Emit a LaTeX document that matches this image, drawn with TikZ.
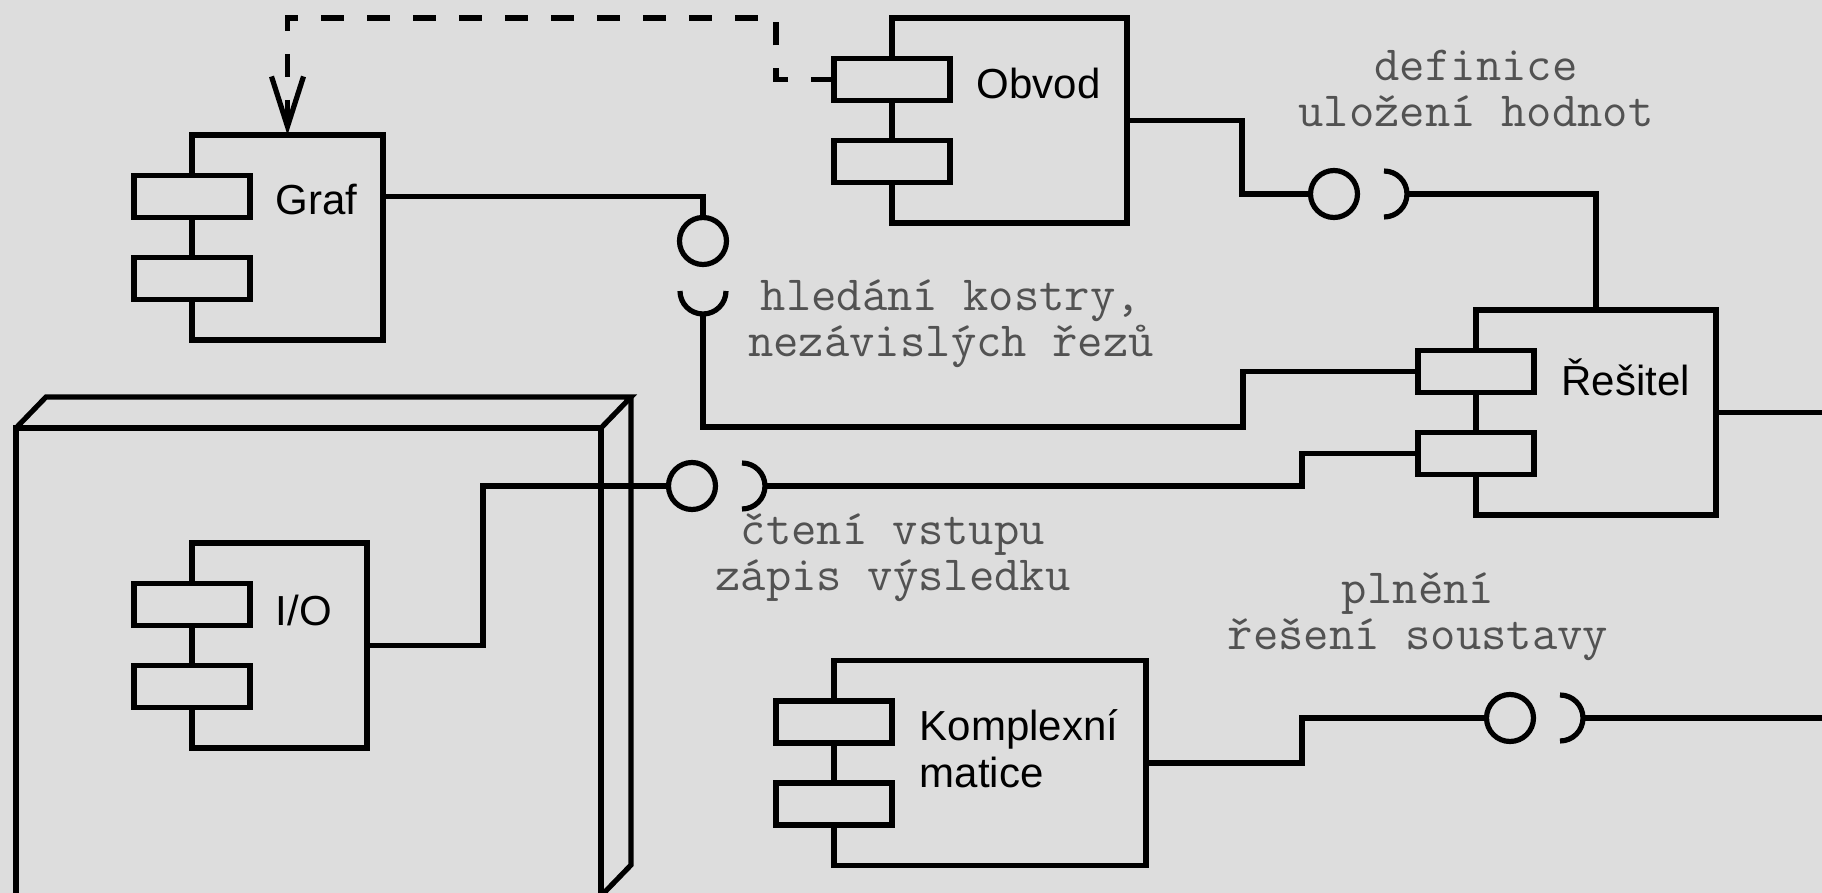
\documentclass[tikz,border=0pt]{standalone}
\usepackage{fontspec}
\setsansfont{Liberation Sans}
\usepackage{xcolor}
\usetikzlibrary{arrows.meta, positioning, calc}
\definecolor{bgc}{HTML}{DDDDDD}

\begin{document}
\begin{tikzpicture}[
  x=0.5pt, y=-0.5pt,
  every node/.style={inner sep=0pt, outer sep=0pt},
  comp/.style={draw, line width=2.6pt, minimum height=102.5pt},
  port/.style={draw, line width=2.6pt, fill=bgc, minimum width=58pt, minimum height=21pt},
  ball/.style={circle, draw, line width=2.6pt, minimum size=23.5pt},
  wire/.style={line width=2.6pt},
  dep/.style={line width=2.6pt, dash pattern=on 11.5pt off 11.5pt,
    -{Straight Barb[length=25pt, width=16pt]}},
  title/.style={font=\sffamily\fontsize{21pt}{23.5pt}\selectfont},
  iface/.style={font=\ttfamily\fontsize{24.6pt}{23pt}\selectfont,
    text=black!68, align=center}
]

\path[use as bounding box, fill=bgc] (0,0) rectangle (1822,893);

% uzel
\node[draw, line width=2.6pt, minimum width=292.5pt, minimum height=234pt] (dev) at (308.5,662) {};
\draw[line width=2.6pt] (dev.north west) -- ([shift={(30,-31)}]dev.north west)
  -- ([shift={(30,-31)}]dev.north east) -- (dev.north east);
\draw[line width=2.6pt] ([shift={(30,-31)}]dev.north east)
  -- ([shift={(30,-31)}]dev.south east) -- (dev.south east);

% komponenty
\node[comp, minimum width=95.5pt] (graf) at (287.5,237.5) {};
\node[comp, minimum width=117.5pt] (obvod) at (1009.5,120.5) {};
\node[comp, minimum width=120pt] (res) at (1596,412.5) {};
\node[comp, minimum width=156pt] (kmat) at (990,763) {};
\node[comp, minimum width=87.5pt] (io) at (279.5,645.5) {};

\foreach \c in {graf,obvod,res,kmat,io} {
  \node[port] (\c A) at ([yshift=20.5pt]\c.west) {};
  \node[port] (\c B) at ([yshift=-20.5pt]\c.west) {};
}

\node[title] (grafT) at (316.5,200) {Graf};
\node[title] (obvodT) at (1038.5,83) {Obvod};
\node[title] (resT) at (1625.5,377) {Řešitel};
\node[title] (ioT) at (304,610) {I/O};
\node[title, align=left] (kmatT) at (1019,749) {Komplexní\\matice};

% rozhrani
\node[ball] (b1) at (703,241) {};
\node[ball] (b2) at (1334,194) {};
\node[ball] (b3) at (692,486) {};
\node[ball] (b4) at (1510,718) {};
\coordinate (s1) at (703,291);
\coordinate (s2) at (1384,194);
\coordinate (s3) at (742,486);
\coordinate (s4) at (1560,718);
\coordinate (outA) at (1830,412.5);
\coordinate (outB) at (1830,718);

\draw[wire] ([xshift=-11.5pt]s1) arc[start angle=180, end angle=360, radius=11.5pt];
\foreach \s in {s2,s3,s4}
  \draw[wire] ([yshift=11.5pt]\s) arc[start angle=90, end angle=-90, radius=11.5pt];

\draw[wire] (graf.east |- grafA) -| (b1.north);
\draw[wire] ([yshift=-11.5pt]s1) |- (1243,427) |- (resA.west);
\draw[wire] (obvod.east) -- ++(115,0) |- (b2.west);
\draw[wire] ([xshift=11.5pt]s2) -| (res.north);
\draw[wire] (io.east) -- ++(116,0) |- (b3.west);
\draw[wire] ([xshift=11.5pt]s3) -| ([xshift=-58pt]resB.west) -- (resB.west);
\draw[wire] (kmat.east) -- ++(156,0) |- (b4.west);
\draw[wire] ([xshift=11.5pt]s4) -- (outB);
\draw[wire] (res.east) -- (outA);
\draw[dep] (obvodA.west) -| (776,18) -| (graf.north);

\node[iface] (defn) at (1476,88) {definice\\uložení hodnot};
\node[iface] (hled) at (951,324) {hledání kostry,\\nezávislých řezů};
\node[iface] (cten) at (893,557) {čtení vstupu\\zápis výsledku};
\node[iface] (plne) at (1418,616) {plnění\\řešení soustavy};

\end{tikzpicture}
\end{document}
